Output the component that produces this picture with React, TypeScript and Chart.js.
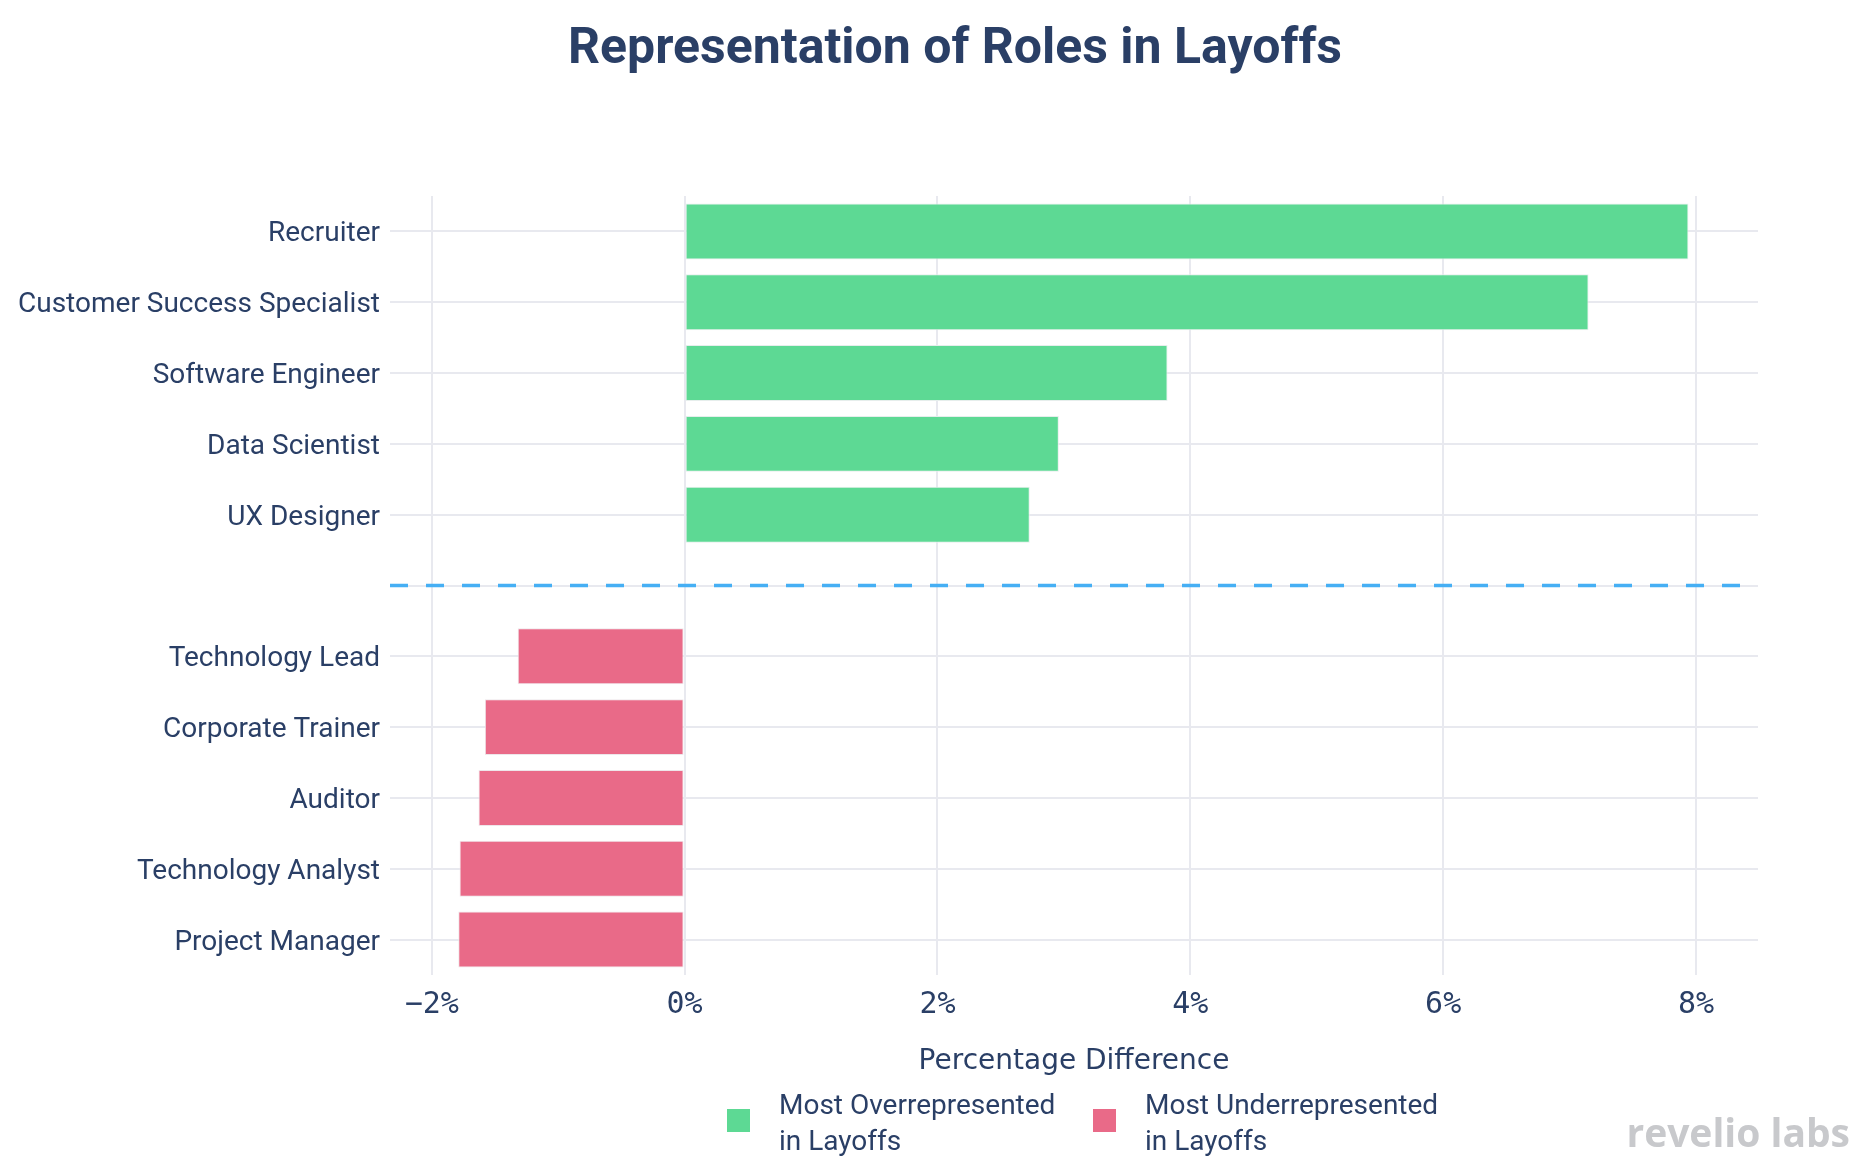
import React, { useEffect, useRef } from "react";
import { Chart, registerables } from "chart.js";

Chart.register(...registerables);

const roles = [
  "Recruiter",
  "Customer Success Specialist",
  "Software Engineer",
  "Data Scientist",
  "UX Designer",
  "",
  "Technology Lead",
  "Corporate Trainer",
  "Auditor",
  "Technology Analyst",
  "Project Manager",
];
const overValues = [7.94, 7.15, 3.82, 2.96, 2.73, null, null, null, null, null, null];
const underValues = [null, null, null, null, null, null, -1.32, -1.58, -1.63, -1.78, -1.79];
const xTickValues = [-2, 0, 2, 4, 6, 8];
const xMin = -2.33;
const xMax = 8.49;
const separatorIndex = 5;
const titleText = "Representation of Roles in Layoffs";
const axisTitle = "Percentage Difference";
const legendItems = [
  { lines: ["Most Overrepresented", "in Layoffs"], color: "#5DD994" },
  { lines: ["Most Underrepresented", "in Layoffs"], color: "#E96A88" },
];
const watermark = "revelio labs";

const NAVY = "#2A3F66";
const GRID = "#E8E9EF";

const decorPlugin = {
  id: "decor",
  afterDatasetsDraw(chart: any) {
    const { ctx, chartArea, scales } = chart;
    const y = scales.y.getPixelForValue(separatorIndex);
    ctx.save();
    ctx.strokeStyle = "#46AFF4";
    ctx.lineWidth = 3.5;
    ctx.setLineDash([18, 18]);
    ctx.beginPath();
    ctx.moveTo(chartArea.left, y);
    ctx.lineTo(chartArea.right - 17, y);
    ctx.stroke();
    ctx.restore();
  },
  afterDraw(chart: any) {
    const { ctx } = chart;
    ctx.save();
    // title
    ctx.fillStyle = NAVY;
    ctx.font = "bold 50px Roboto";
    ctx.textAlign = "center";
    ctx.textBaseline = "alphabetic";
    ctx.fillText(titleText, 955, 63);
    // legend
    const xs = [727, 1093];
    ctx.font = "28px Roboto";
    ctx.textAlign = "left";
    legendItems.forEach((item, i) => {
      const x = xs[i];
      ctx.fillStyle = item.color;
      ctx.fillRect(x, 1109, 23, 23);
      ctx.fillStyle = NAVY;
      item.lines.forEach((line, j) => {
        ctx.fillText(line, x + 52, 1114 + j * 36);
      });
    });
    // watermark
    ctx.fillStyle = "#C8C9CC";
    ctx.font = "bold 39px 'Open Sans'";
    ctx.textAlign = "right";
    ctx.fillText(watermark, 1850, 1147);
    ctx.restore();
  },
};

export default function App() {
  const canvasRef = useRef<HTMLCanvasElement | null>(null);

  useEffect(() => {
    const canvas = canvasRef.current;
    if (!canvas) return;
    const chart = new Chart(canvas, {
      type: "bar",
      data: {
        labels: roles,
        datasets: [
          {
            label: legendItems[0].lines.join(" "),
            data: overValues,
            backgroundColor: legendItems[0].color,
            borderColor: "#E6EEEC",
            borderWidth: 1,
            borderSkipped: false,
            grouped: false,
            barPercentage: 0.79,
            categoryPercentage: 1,
          },
          {
            label: legendItems[1].lines.join(" "),
            data: underValues,
            backgroundColor: legendItems[1].color,
            borderColor: "#EEE6EA",
            borderWidth: 1,
            borderSkipped: false,
            grouped: false,
            barPercentage: 0.79,
            categoryPercentage: 1,
          },
        ],
      },
      options: {
        indexAxis: "y",
        animation: false,
        responsive: true,
        maintainAspectRatio: false,
        layout: { padding: { left: 0, right: 112, top: 196, bottom: 0 } },
        plugins: {
          legend: { display: false },
          title: { display: false },
          tooltip: { enabled: false },
        },
        scales: {
          x: {
            type: "linear",
            min: xMin,
            max: xMax,
            afterBuildTicks: (scale: any) => {
              scale.ticks = xTickValues.map((v) => ({ value: v }));
            },
            afterFit: (scale: any) => {
              scale.height = 195;
            },
            grid: { color: GRID, lineWidth: 2, drawTicks: false },
            border: { display: false },
            ticks: {
              padding: 12,
              color: NAVY,
              font: { family: "'DejaVu Sans Mono'", size: 30 },
              callback: (v: any) => (v < 0 ? "\u2212" : "") + Math.abs(v) + "%",
            },
            title: {
              display: true,
              text: axisTitle,
              color: NAVY,
              font: { family: "'DejaVu Sans'", size: 28 },
              padding: { top: 0, bottom: 91 },
            },
          },
          y: {
            type: "category",
            offset: true,
            afterFit: (scale: any) => {
              scale.width = 390;
            },
            grid: { color: GRID, lineWidth: 2, drawTicks: false, offset: false },
            border: { display: false },
            ticks: {
              padding: 10,
              labelOffset: 3,
              color: NAVY,
              font: { family: "Roboto", size: 28 },
            },
          },
        },
      },
      plugins: [decorPlugin],
    } as any);
    return () => chart.destroy();
  }, []);

  return (
    <div style={{ position: "absolute", left: 0, top: 0, width: 1870, height: 1170, background: "#fff" }}>
      <canvas ref={canvasRef} />
    </div>
  );
}
